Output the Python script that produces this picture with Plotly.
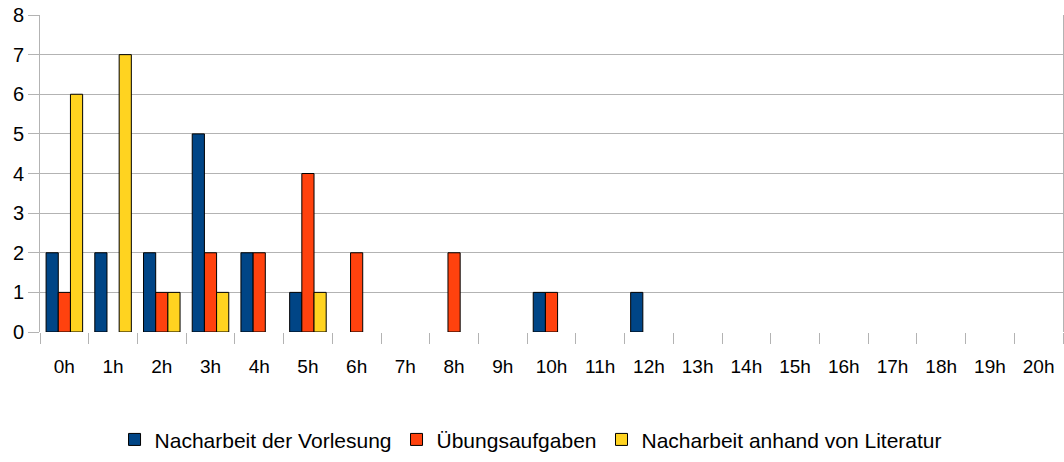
import plotly.graph_objects as go

categories = [f"{i}h" for i in range(21)]
vorlesung = [2, 2, 2, 5, 2, 1, 0, 0, 0, 0, 1, 0, 1, 0, 0, 0, 0, 0, 0, 0, 0]
uebung = [1, 0, 1, 2, 2, 4, 2, 0, 2, 0, 1, 0, 0, 0, 0, 0, 0, 0, 0, 0, 0]
literatur = [6, 7, 1, 1, 0, 1, 0, 0, 0, 0, 0, 0, 0, 0, 0, 0, 0, 0, 0, 0, 0]
y_ticks = list(range(0, 9))

series = [
    ("Nacharbeit der Vorlesung", vorlesung, "#004586"),
    ("Übungsaufgaben", uebung, "#ff420e"),
    ("Nacharbeit anhand von Literatur", literatur, "#ffd320"),
]

fig = go.Figure()
for name, vals, color in series:
    fig.add_trace(go.Bar(
        x=categories, y=vals, name=name,
        marker=dict(color=color,
                    line=dict(color="#000000", width=[1 if v else 0 for v in vals])),
    ))

fig.update_layout(
    width=1064, height=462,
    margin=dict(l=40, r=1, t=15, b=130),
    paper_bgcolor="white", plot_bgcolor="white",
    barmode="group", bargap=0.25, bargroupgap=0,
    font=dict(family="Liberation Sans, Arial, sans-serif", size=18, color="#000000"),
    showlegend=True,
    legend=dict(orientation="h", x=0.48, xanchor="center", y=-0.34, yanchor="middle",
                font=dict(size=21), itemwidth=30, traceorder="normal"),
    xaxis=dict(
        type="category", tickson="boundaries", ticks="outside", ticklen=11,
        tickcolor="#b3b3b3", showgrid=False, showline=False, automargin=False,
        tickfont=dict(size=19), ticklabelstandoff=21,
    ),
    yaxis=dict(
        range=[0, 8], tickvals=y_ticks, showgrid=True, gridcolor="#b3b3b3",
        zeroline=False, showline=True, linecolor="#b3b3b3", mirror=True,
        ticks="outside", ticklen=11, tickcolor="#b3b3b3", automargin=False,
        tickfont=dict(size=20), ticklabelstandoff=0,
    ),
)

fig.write_html("out.html", config={"displayModeBar": False},
               post_script="document.body.style.margin='0px';")
